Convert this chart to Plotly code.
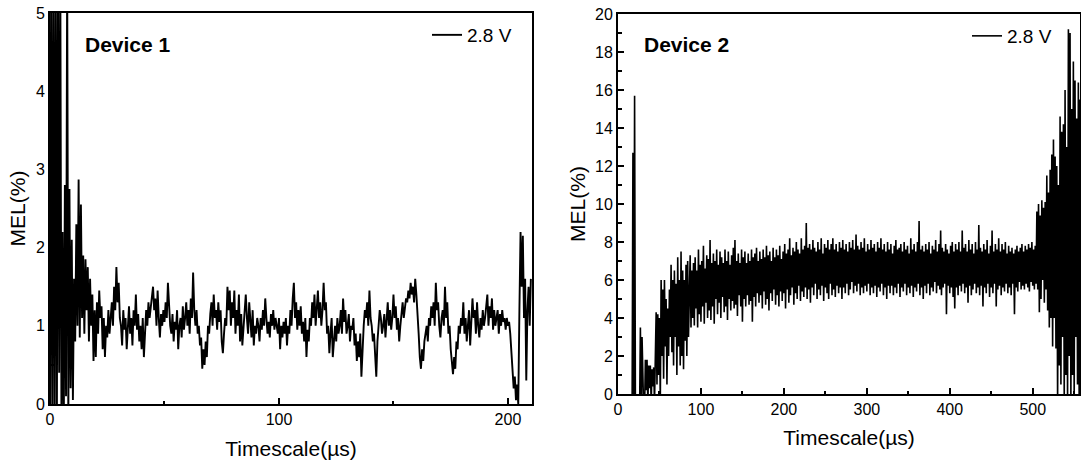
import numpy as np
import plotly.graph_objects as go

# ---------------- data ----------------
# Device 1: MEL(%) sampled every 0.5 us from 0 to 210 us
dev1_step = 0.5
dev1_mel = [
    -0.4, 5.6, -0.3, 5.6, -0.4, 5.6, -0.3, 5.6, 0.4, 5.6,
    -0.3, 2.2, -0.4, 2.8, 0.1, 5.6, -0.2, 2.75, 0.2, 2.1,
    0.05, 1.6, 0.8, 2.3, 1.0, 2.87, 0.85, 2.55, 1.1, 1.9,
    0.9, 1.85, 1.2, 1.75, 0.8, 1.6, 1.0, 1.4, 0.55, 1.2,
    0.6, 1.3, 0.9, 1.45, 1.1, 1.25, 0.7, 1.1, 0.6, 1.0,
    0.85, 1.2, 0.9, 1.1, 1.3, 1.0, 1.5, 1.2, 1.75, 1.3,
    1.55, 1.1, 1.0, 0.75, 1.2, 0.95, 1.1, 0.7, 1.0, 1.25,
    0.9, 1.1, 0.75, 1.2, 1.0, 1.4, 0.95, 1.15, 0.8, 1.0,
    0.7, 1.1, 0.6, 0.9, 1.2, 1.0, 1.3, 1.1, 1.25, 1.4,
    1.5, 1.2, 1.35, 1.0, 1.45, 1.1, 0.85, 1.15, 1.0, 1.2,
    1.05, 1.3, 1.1, 1.55, 1.2, 1.0, 0.9, 1.15, 0.8, 1.05,
    0.95, 1.2, 0.7, 1.0, 1.1, 0.85, 1.25, 0.95, 1.1, 1.3,
    1.0, 1.2, 0.9, 1.35, 1.1, 1.68, 1.2, 1.0, 1.2, 0.9,
    1.0, 0.75, 0.85, 0.45, 0.7, 0.5, 0.8, 0.6, 1.0, 0.9,
    1.15, 1.3, 1.0, 1.4, 1.1, 1.2, 0.95, 1.3, 1.05, 1.2,
    0.8, 0.65, 0.9, 1.1, 1.0, 1.5, 1.2, 1.45, 1.0, 1.3,
    1.1, 1.45, 0.9, 1.2, 1.0, 1.4, 0.8, 1.15, 0.75, 1.0,
    1.2, 1.4, 1.1, 0.9, 1.3, 1.0, 0.85, 1.2, 0.75, 1.0,
    0.9, 1.1, 1.0, 0.8, 1.1, 0.95, 1.2, 1.0, 1.35, 1.1,
    0.9, 1.05, 0.85, 1.15, 1.0, 1.2, 0.95, 1.1, 1.0, 0.9,
    1.1, 0.7, 1.0, 0.85, 1.05, 0.9, 1.1, 0.75, 1.0, 0.9,
    1.2, 1.0, 1.35, 1.55, 1.1, 1.3, 0.95, 1.2, 1.0, 1.25,
    0.9, 1.05, 0.8, 1.1, 0.6, 0.95, 0.8, 1.1, 1.0, 1.3,
    1.1, 1.4, 1.0, 1.25, 1.45, 1.1, 1.3, 1.0, 1.2, 1.55,
    1.2, 1.3, 0.9, 1.0, 0.65, 0.9, 1.1, 0.6, 0.85, 1.0,
    0.8, 1.1, 0.9, 1.0, 1.2, 0.9, 1.35, 1.05, 1.2, 0.9,
    1.0, 1.15, 0.8, 1.0, 0.95, 1.1, 0.75, 0.9, 0.55, 0.8,
    0.6, 0.9, 0.35, 0.8, 1.0, 1.2, 1.1, 1.3, 1.0, 1.45,
    1.1, 1.0, 0.8, 0.9, 0.6, 0.35, 0.8, 1.0, 1.2, 1.1,
    0.9, 1.0, 1.15, 0.85, 1.1, 1.3, 1.0, 1.2, 0.95, 1.1,
    1.4, 1.1, 1.25, 0.95, 1.1, 0.8, 1.0, 1.2, 1.3, 1.1,
    1.2, 1.35, 1.3, 1.45, 1.35, 1.55, 1.4, 1.5, 1.3, 1.6,
    1.4, 1.2, 0.9, 0.6, 0.45, 0.7, 0.55, 0.8, 0.9, 1.0,
    0.8, 1.1, 1.0, 1.25, 1.1, 1.3, 1.0, 1.55, 1.2, 1.3,
    1.0, 0.85, 1.1, 1.2, 1.0, 1.5, 1.1, 1.3, 0.9, 1.0,
    0.7, 0.5, 0.38, 0.6, 0.45, 0.8, 0.7, 1.0, 0.9, 1.1,
    1.0, 1.3, 0.9, 1.1, 0.8, 1.0, 1.2, 0.75, 1.0, 1.35,
    1.1, 1.2, 0.9, 1.3, 1.0, 0.85, 1.1, 0.95, 1.2, 1.0,
    1.1, 1.3, 1.4, 1.0, 1.25, 1.1, 1.35, 0.95, 1.2, 1.0,
    1.1, 1.2, 0.9, 1.15, 1.0, 1.2, 1.05, 1.1, 0.95, 1.1,
    1.0, 1.05, 0.9, 0.7, 0.5, 0.2, 0.35, 0.05, 0.25, 0.0,
    1.2, 2.2, 1.5, 2.15, 1.1, 1.6, 0.3, 1.2, 1.5, 1.0,
    1.6,
]

# Device 2: MEL(%) sampled every 1 us from 0 to 557 us
dev2_step = 1.0
dev2_mel = [
    -1, -1, -1, -1, -1, -1, -1, -1, -1, -1,
    -1, -1, -1, -1, -1, -1, -1, -1, 12.7, -1,
    15.7, -1, -1, -1, -1, -1, -1, 3.5, -1, 3.0,
    -1, -1, -1, 1.8, 0.2, 1.8, -0.5, 1.5, 0.3, 1.5,
    -0.5, 1.3, 0.4, 1.4, -0.5, 2.2, 4.3, 0.5, 4.2, 1.0,
    4.0, -0.5, 6.0, 2.0, 5.5, 0.8, 6.0, 2.5, 5.0, 0.5,
    4.5, 2.0, 5.5, 3.0, 6.8, 2.2, 6.0, 1.5, 6.5, 3.0,
    5.8, 1.0, 7.2, 2.5, 6.0, 1.5, 7.5, 2.0, 6.5, 1.3,
    6.0, 2.8, 6.8, 2.0, 7.0, 3.0, 6.2, 7.3, 3.5, 6.5,
    4.0, 6.9, 3.6, 7.2, 4.5, 6.5, 3.5, 7.6, 4.2, 6.8,
    3.8, 7.0, 4.6, 7.8, 3.7, 6.6, 4.8, 7.3, 4.0, 7.1,
    4.4, 8.1, 3.9, 6.9, 4.6, 7.4, 3.7, 7.0, 5.0, 7.6,
    4.2, 6.8, 4.8, 7.5, 4.0, 7.2, 5.1, 6.9, 4.3, 7.6,
    4.6, 7.0, 3.9, 7.5, 5.0, 6.8, 4.4, 7.3, 4.9, 7.7,
    4.5, 8.1, 4.7, 7.0, 4.1, 7.4, 5.2, 6.9, 4.6, 7.6,
    3.8, 7.2, 5.0, 7.5, 4.6, 6.9, 5.2, 7.4, 4.7, 7.0,
    4.9, 7.6, 3.8, 7.2, 5.1, 7.4, 4.6, 7.7, 5.3, 7.0,
    4.8, 7.5, 5.2, 7.1, 4.5, 7.6, 5.4, 7.2, 4.7, 7.8,
    5.0, 7.3, 4.4, 7.5, 5.3, 7.0, 4.9, 7.7, 5.5, 7.2,
    4.7, 7.6, 5.2, 7.3, 4.6, 7.8, 5.4, 7.1, 4.9, 7.5,
    5.3, 7.9, 4.5, 7.4, 5.5, 7.6, 4.8, 8.2, 5.2, 7.3,
    5.6, 7.7, 4.7, 7.5, 5.3, 8.0, 5.0, 7.6, 5.7, 7.4,
    4.9, 8.2, 5.4, 7.6, 5.1, 7.8, 5.6, 9.0, 5.0, 7.7,
    5.5, 7.9, 4.8, 7.6, 5.6, 8.1, 5.2, 7.7, 5.8, 7.5,
    5.0, 8.0, 5.5, 7.6, 5.2, 8.2, 5.7, 7.4, 4.9, 7.9,
    5.6, 7.7, 5.3, 8.1, 5.0, 7.6, 5.8, 7.9, 5.2, 8.2,
    5.5, 7.6, 5.1, 7.9, 5.7, 7.5, 5.3, 8.0, 5.6, 7.7,
    5.0, 8.1, 5.6, 7.6, 5.3, 7.9, 5.8, 7.5, 5.2, 8.0,
    5.5, 7.7, 5.9, 8.1, 5.3, 7.6, 5.7, 8.4, 5.4, 7.8,
    5.8, 7.6, 5.2, 8.0, 5.6, 7.7, 5.3, 8.2, 5.7, 7.5,
    5.4, 7.9, 5.8, 7.6, 5.2, 8.1, 5.6, 7.7, 5.3, 7.9,
    5.7, 7.5, 5.1, 8.0, 5.6, 7.7, 5.4, 8.2, 5.8, 7.6,
    5.2, 7.9, 5.6, 7.5, 5.0, 8.0, 5.7, 7.6, 5.3, 7.9,
    5.7, 7.4, 5.2, 7.8, 5.6, 8.1, 5.3, 7.6, 5.8, 7.7,
    5.1, 7.9, 5.6, 7.5, 5.4, 8.0, 5.8, 7.6, 5.2, 7.8,
    5.6, 7.4, 5.3, 8.2, 5.7, 7.6, 5.1, 7.9, 5.6, 7.5,
    5.4, 8.0, 5.8, 9.1, 5.2, 7.6, 5.6, 7.8, 5.0, 7.5,
    5.7, 7.9, 5.3, 7.6, 5.8, 8.0, 5.2, 7.4, 5.6, 7.8,
    5.4, 7.6, 5.9, 8.1, 5.3, 7.5, 5.7, 7.9, 5.5, 8.6,
    5.2, 7.7, 5.6, 7.5, 5.8, 7.9, 4.2, 7.6, 5.7, 7.4,
    5.3, 7.8, 5.6, 8.0, 5.1, 7.5, 4.5, 7.9, 5.6, 7.6,
    5.2, 8.0, 5.7, 7.5, 5.4, 8.6, 5.8, 7.7, 5.3, 7.9,
    5.6, 7.5, 4.8, 8.1, 5.7, 7.6, 5.2, 7.9, 5.5, 7.4,
    5.8, 8.0, 5.3, 7.6, 5.6, 8.9, 5.2, 7.7, 5.7, 7.5,
    4.6, 7.9, 5.6, 7.6, 5.3, 8.1, 5.8, 7.4, 5.1, 7.8,
    5.6, 8.6, 5.3, 7.5, 5.8, 7.9, 4.6, 7.6, 5.5, 8.2,
    5.7, 7.5, 5.2, 7.9, 5.6, 7.6, 5.4, 8.0, 5.8, 7.4,
    5.3, 7.8, 5.6, 7.5, 5.2, 7.7, 5.8, 7.4, 4.2, 7.6,
    5.6, 7.8, 5.4, 7.5, 5.9, 7.7, 5.5, 7.9, 5.7, 7.5,
    5.5, 7.8, 5.8, 7.6, 5.6, 7.9, 5.4, 7.7, 5.9, 8.0,
    5.7, 7.6, 5.5, 7.8, 5.8, 9.6, 5.5, 10.0, 4.3, 9.4,
    5.0, 10.2, 6.0, 9.8, 4.8, 10.1, 5.5, 11.5, 4.4, 10.6,
    3.5, 11.8, 4.0, 12.6, 2.5, 13.4, 4.0, 12.5, 2.4, 12.0,
    -0.5, 11.0, 1.5, 14.6, 0.5, 13.8, 3.0, 14.2, -0.5, 16.0,
    1.0, 13.0, -0.5, 19.2, 2.0, 19.0, -0.5, 15.0, 1.0, 17.5,
    -0.5, 16.5, 3.0, 14.5, 0.5, 16.4, -0.5, 15.5,
]

series_name = "2.8 V"
panel_labels = ["Device 1", "Device 2"]
x_title = "Timescale(µs)"
y_title = "MEL(%)"

dev1_t = np.arange(len(dev1_mel)) * dev1_step
dev2_t = np.arange(len(dev2_mel)) * dev2_step

# ---------------- figure ----------------
FONT = "Arial, 'Liberation Sans', sans-serif"
W, H = 1081, 470

fig = go.Figure()
fig.add_trace(go.Scatter(x=dev1_t, y=dev1_mel, mode="lines", name=series_name,
                         line=dict(color="black", width=1.9),
                         xaxis="x", yaxis="y", legend="legend"))
fig.add_trace(go.Scatter(x=dev2_t, y=dev2_mel, mode="lines", name=series_name,
                         line=dict(color="black", width=1.6),
                         xaxis="x2", yaxis="y2", legend="legend2"))

def px_x(p):
    return p / W

def px_y(p):
    return (H - p) / H

common_axis = dict(showline=True, linecolor="black", linewidth=2, mirror=True,
                   ticks="inside", tickcolor="black", tickwidth=1.5, ticklen=6,
                   showgrid=False, zeroline=False, automargin=False,
                   tickfont=dict(family=FONT, size=16, color="black"))

fig.update_layout(
    width=W, height=H,
    margin=dict(l=0, r=0, t=0, b=0),
    paper_bgcolor="white", plot_bgcolor="white",
    font=dict(family=FONT, color="black"),
    xaxis=dict(domain=[px_x(50), px_x(532)], range=[0, 210.5], anchor="y",
               dtick=100, tick0=0,
               minor=dict(dtick=50, ticks="inside", ticklen=3, tickcolor="black"),
               title=dict(text=x_title, font=dict(size=21, family=FONT), standoff=14),
               **common_axis),
    yaxis=dict(domain=[px_y(404), px_y(13)], range=[0, 5], anchor="x",
               dtick=1, tick0=0,
               minor=dict(dtick=0.5, ticks="inside", ticklen=4, tickcolor="black"),
               title=dict(text=y_title, font=dict(size=21, family=FONT), standoff=5),
               **common_axis),
    xaxis2=dict(domain=[px_x(618), px_x(1080)], range=[0, 557], anchor="y2",
                dtick=100, tick0=0,
                minor=dict(dtick=50, ticks="inside", ticklen=3, tickcolor="black"),
                title=dict(text=x_title, font=dict(size=21, family=FONT), standoff=13),
                **common_axis),
    yaxis2=dict(domain=[px_y(394), px_y(14)], range=[0, 20], anchor="x2",
                dtick=2, tick0=0,
                minor=dict(dtick=1, ticks="inside", ticklen=4, tickcolor="black"),
                title=dict(text=y_title, font=dict(size=21, family=FONT), standoff=4),
                **common_axis),
    legend=dict(x=px_x(427), y=px_y(35), xanchor="left", yanchor="middle",
                bgcolor="rgba(0,0,0,0)", font=dict(size=19, family=FONT)),
    legend2=dict(x=px_x(967), y=px_y(36), xanchor="left", yanchor="middle",
                 bgcolor="rgba(0,0,0,0)", font=dict(size=19, family=FONT)),
    showlegend=True,
)

fig.add_annotation(x=px_x(83), y=px_y(45), xref="paper", yref="paper",
                   text="<b>%s</b>" % panel_labels[0], showarrow=False,
                   xanchor="left", yanchor="middle",
                   font=dict(size=21, family=FONT, color="black"))
fig.add_annotation(x=px_x(642), y=px_y(44), xref="paper", yref="paper",
                   text="<b>%s</b>" % panel_labels[1], showarrow=False,
                   xanchor="left", yanchor="middle",
                   font=dict(size=21, family=FONT, color="black"))

fig.write_html("out.html",
               config={"displayModeBar": False},
               post_script="document.body.style.margin='0px';document.body.style.overflow='hidden';")
